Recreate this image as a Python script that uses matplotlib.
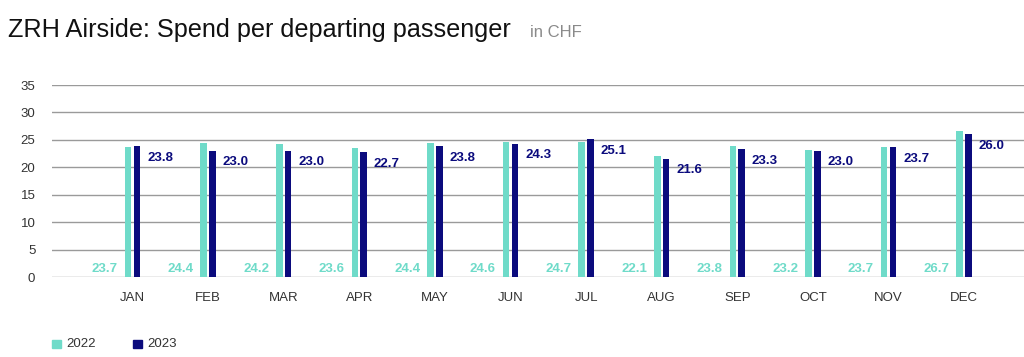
import matplotlib
matplotlib.use("Agg")
import matplotlib.pyplot as plt
from matplotlib.patches import Rectangle

months = ["JAN", "FEB", "MAR", "APR", "MAY", "JUN", "JUL", "AUG", "SEP", "OCT", "NOV", "DEC"]
spend_2022 = [23.7, 24.4, 24.2, 23.6, 24.4, 24.6, 24.7, 22.1, 23.8, 23.2, 23.7, 26.7]
spend_2023 = [23.8, 23.0, 23.0, 22.7, 23.8, 24.3, 25.1, 21.6, 23.3, 23.0, 23.7, 26.0]
yticks = [0, 5, 10, 15, 20, 25, 30, 35]

teal = "#6fdbc9"
navy = "#0b0b7d"
teal_txt = "#6fdbc9"
grid_c = "#9a9a9a"

plt.rcParams["font.family"] = ["Liberation Sans", "DejaVu Sans"]

fig = plt.figure(figsize=(10.24, 3.57), dpi=100)
ax = fig.add_axes([52 / 1024, 80 / 357, 1 - 52 / 1024, 192 / 357])

x = list(range(len(months)))
w = 0.086
off = 0.058
ax.bar([i - off for i in x], spend_2022, width=w, color=teal, zorder=3)
ax.bar([i + off for i in x], spend_2023, width=w, color=navy, zorder=3)

for i in x:
    ax.annotate(f"{spend_2022[i]:.1f}", xy=(i - off - w / 2, 0), xytext=(-5, 3.6),
                textcoords="offset points", ha="right", va="baseline",
                color=teal_txt, fontsize=9.5, fontweight="bold")
    ax.annotate(f"{spend_2023[i]:.1f}", xy=(i + off + w / 2, spend_2023[i]), xytext=(5, -8.3),
                textcoords="offset points", ha="left", va="center",
                color=navy, fontsize=9.5, fontweight="bold")

ax.set_xlim((52 - 132.5) / 75.6, (1024 - 132.5) / 75.6)
ax.set_ylim(0, 35)
ax.set_yticks(yticks)
ax.set_xticks(x)
ax.set_xticklabels(months)
ax.tick_params(axis="both", length=0, labelsize=9.5, colors="#333333")
ax.tick_params(axis="x", pad=11)
ax.tick_params(axis="y", pad=12)
ax.yaxis.grid(True, color=grid_c, linewidth=1.0, zorder=0)
for s in ax.spines.values():
    s.set_visible(False)

fig.text(8 / 1024, 1 - 37 / 357, "ZRH Airside: Spend per departing passenger",
         fontsize=18.2, color="#111111", va="baseline", ha="left")
fig.text(530 / 1024, 1 - 37 / 357, "in CHF", fontsize=12, color="#8a8a8a",
         va="baseline", ha="left")

# legend
for lx, col, lab in [(52, teal, "2022"), (133, navy, "2023")]:
    fig.patches.append(Rectangle((lx / 1024, 1 - 348 / 357), 8.5 / 1024, 8.5 / 357,
                                 transform=fig.transFigure, color=col, figure=fig))
    fig.text((lx + 14) / 1024, 1 - 344 / 357, lab, fontsize=9.5, color="#333333",
             va="center", ha="left")

fig.savefig("out.png", dpi=100, facecolor="white")
